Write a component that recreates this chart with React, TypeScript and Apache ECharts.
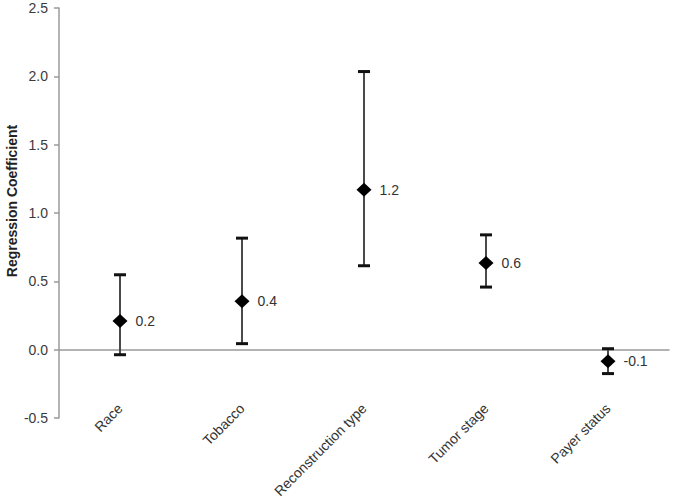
import React, { useEffect, useRef } from "react";
import * as echarts from "echarts";

const categories = ["Race", "Tobacco", "Reconstruction type", "Tumor stage", "Payer status"];
const coefficients = [0.21, 0.355, 1.17, 0.635, -0.085];
const lowerCI = [-0.037, 0.044, 0.614, 0.458, -0.175];
const upperCI = [0.548, 0.816, 2.035, 0.84, 0.007];
const pointLabels = ["0.2", "0.4", "1.2", "0.6", "-0.1"];
const yAxisTitle = "Regression Coefficient";

export default function App() {
  const ref = useRef<HTMLDivElement>(null);
  useEffect(() => {
    if (!ref.current) return;
    const chart = echarts.init(ref.current, null, { renderer: "svg" });
    const font = "'Liberation Sans', Arial, Helvetica, sans-serif";
    chart.setOption({
      animation: false,
      textStyle: { fontFamily: font },
      grid: { left: 59, right: 6, top: 8, bottom: 80, containLabel: false, outerBoundsMode: "none" },
      xAxis: {
        type: "category",
        data: categories,
        axisLine: { show: true, onZero: true, lineStyle: { color: "#9a9a9a", width: 1.5 } },
        axisTick: { show: false },
        axisLabel: { rotate: 45, margin: -12, fontSize: 14, color: "#333", fontFamily: font, interval: 0 },
        splitLine: { show: false },
      },
      yAxis: {
        type: "value",
        min: -0.5,
        max: 2.5,
        interval: 0.5,
        axisLine: { show: true, lineStyle: { color: "#9a9a9a", width: 1.5 } },
        axisTick: { show: true, length: 5, lineStyle: { color: "#9a9a9a", width: 1.5 } },
        axisLabel: {
          fontSize: 14,
          color: "#3a3a3a",
          margin: 11,
          fontFamily: font,
          formatter: (v: number) => v.toFixed(1),
        },
        splitLine: { show: false },
      },
      graphic: [
        {
          type: "text",
          x: 12,
          y: 201,
          rotation: Math.PI / 2,
          style: {
            text: yAxisTitle,
            fontSize: 14,
            fontWeight: "bold",
            fill: "#222",
            fontFamily: font,
            align: "center",
            verticalAlign: "middle",
          },
        },
      ],
      series: [
        {
          type: "custom",
          data: categories.map((_, i) => [i, lowerCI[i], upperCI[i]]),
          renderItem: (params: any, api: any) => {
            const i = api.value(0);
            const lo = api.coord([i, api.value(1)]);
            const hi = api.coord([i, api.value(2)]);
            const hw = 6;
            return {
              type: "group",
              children: [
                {
                  type: "line",
                  shape: { x1: lo[0], y1: lo[1], x2: hi[0], y2: hi[1] },
                  style: { stroke: "#4a4a4a", lineWidth: 2 },
                },
                {
                  type: "line",
                  shape: { x1: hi[0] - hw, y1: hi[1], x2: hi[0] + hw, y2: hi[1] },
                  style: { stroke: "#111", lineWidth: 3 },
                },
                {
                  type: "line",
                  shape: { x1: lo[0] - hw, y1: lo[1], x2: lo[0] + hw, y2: lo[1] },
                  style: { stroke: "#111", lineWidth: 3 },
                },
              ],
            };
          },
          z: 2,
        },
        {
          type: "scatter",
          data: coefficients.map((v, i) => [i, v]),
          symbol: "diamond",
          symbolSize: [15, 14],
          itemStyle: { color: "#000", opacity: 1 },
          label: {
            show: true,
            position: "right",
            distance: 8,
            fontSize: 14,
            color: "#333",
            fontFamily: font,
            formatter: (p: any) => pointLabels[p.dataIndex],
          },
          z: 3,
        },
      ],
    });
    return () => chart.dispose();
  }, []);
  return <div ref={ref} style={{ width: 675, height: 498, position: "absolute", left: 0, top: 0 }} />;
}
